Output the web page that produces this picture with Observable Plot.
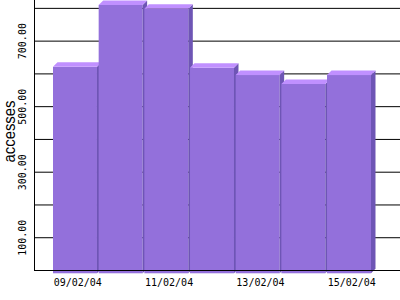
<!DOCTYPE html>
<html>
<head>
<meta charset="utf-8">
<script src="https://cdn.jsdelivr.net/npm/d3@7"></script>
<script src="https://cdn.jsdelivr.net/npm/@observablehq/plot@0.6"></script>
<style>
  html, body { margin: 0; padding: 0; background: #fff; }
  #chart svg { display: block; }
</style>
</head>
<body>
<div id="chart"></div>
<script>
// ---- data ----
const dates = ["09/02/04", "10/02/04", "11/02/04", "12/02/04", "13/02/04", "14/02/04", "15/02/04"];
const accesses = [620, 809, 797, 617, 595, 568, 595];
const gridValues = [100, 200, 300, 400, 500, 600, 700, 800];
const labeledTicks = [100, 300, 500, 700];
const labeledDates = ["09/02/04", "11/02/04", "13/02/04", "15/02/04"];
const yTitle = "accesses";

// ---- build ----
const data = dates.map((d, i) => ({i, date: d, value: accesses[i]}));
const FRONT = 0.963;   // front face width (in bar steps)
const DX = 0.0985;     // 3D depth horizontal (steps)
const DY = 13.7;       // 3D depth vertical (value units)
const BOTTOM = -10;    // front face bottom, slightly below baseline
const xDomain = [-0.416, 7.598];
const yDomain = [0, 824];

const cFront = "#9370DB", cTop = "#C090FF", cSide = "#6E55B5";

const barMarks = data.flatMap(d => {
  const L = d.i, R = d.i + FRONT, v = d.value;
  const side = [
    {x: R, y1: BOTTOM, y2: v},
    {x: R + DX, y1: BOTTOM + DY, y2: v + DY}
  ];
  const top = [
    {x: L, y1: v, y2: v},
    {x: L + DX, y1: v, y2: v + DY},
    {x: R, y1: v, y2: v + DY},
    {x: R + DX, y1: v + DY, y2: v + DY}
  ];
  return [
    Plot.rect([d], {x1: () => L, x2: () => R, y1: () => BOTTOM, y2: "value", fill: cFront}),
    Plot.areaY(side, {x: "x", y1: "y1", y2: "y2", fill: cSide, curve: "linear"}),
    Plot.areaY(top, {x: "x", y1: "y1", y2: "y2", fill: cTop, curve: "linear"})
  ];
});

const labeledData = data.filter(d => labeledDates.includes(d.date));

const chart = Plot.plot({
  width: 400,
  height: 300,
  marginLeft: 34,
  marginRight: 0,
  marginTop: 0,
  marginBottom: 30,
  style: {background: "#fff"},
  x: {type: "linear", domain: xDomain, axis: null},
  y: {type: "linear", domain: yDomain, axis: null},
  marks: [
    Plot.ruleY(gridValues, {stroke: "#000", strokeWidth: 1}),
    ...barMarks,
    Plot.ruleY([0], {stroke: "#000", strokeWidth: 1}),
    Plot.ruleX([xDomain[0]], {y1: 0, y2: yDomain[1], stroke: "#000", strokeWidth: 1}),
    Plot.text(labeledTicks, {
      y: d => d, frameAnchor: "left", dx: -12,
      text: d => d.toFixed(2), rotate: -90, textAnchor: "middle", lineAnchor: "middle",
      fontFamily: "DejaVu Sans Mono", fontSize: 10, fill: "#000"
    }),
    Plot.text(labeledData, {
      x: d => d.i + (FRONT + DX) / 2, y: () => 0, dy: 12,
      text: "date", textAnchor: "middle", lineAnchor: "middle",
      fontFamily: "DejaVu Sans Mono", fontSize: 10, fill: "#000"
    }),
    Plot.text([yTitle], {
      frameAnchor: "left", dx: -25, dy: -4, text: d => d, rotate: -90,
      textAnchor: "middle", lineAnchor: "middle",
      fontFamily: "Liberation Sans Narrow, Arial Narrow, sans-serif", fontSize: 16, fill: "#000"
    })
  ]
});
document.getElementById("chart").appendChild(chart);
// squeeze the axis title to its measured length
chart.querySelectorAll("text").forEach(t => {
  if (t.textContent === yTitle) {
    t.setAttribute("textLength", "62");
    t.setAttribute("lengthAdjust", "spacingAndGlyphs");
  }
});
</script>
</body>
</html>
